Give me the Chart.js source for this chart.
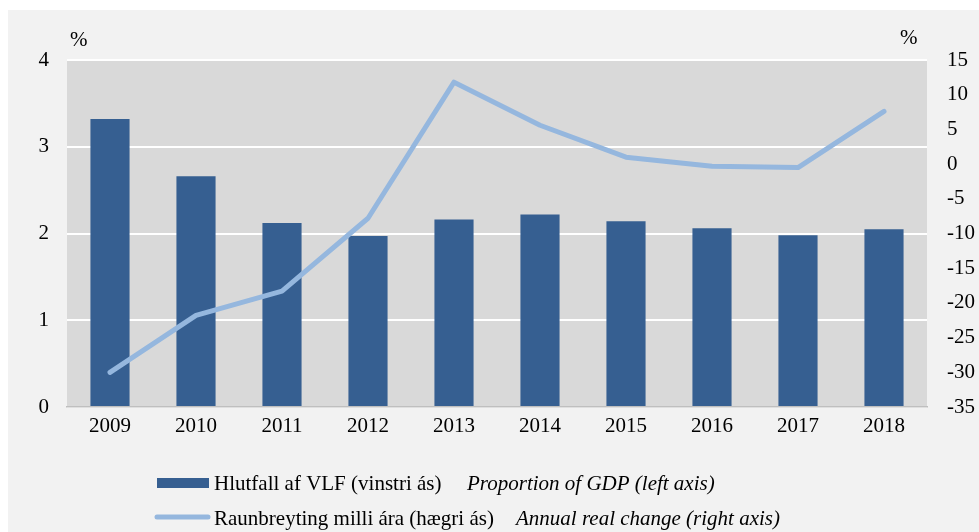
<!DOCTYPE html>
<html>
<head>
<meta charset="utf-8">
<script src="https://cdn.jsdelivr.net/npm/chart.js@4"></script>
<style>
  html, body { margin: 0; padding: 0; background: #ffffff; }
  #wrap { position: absolute; left: 8px; top: 10px; width: 971px; height: 522px; background: #f2f2f2; }
</style>
</head>
<body>
<div id="wrap"><canvas id="chart_one" width="971" height="522"></canvas></div>
<script>

// data
var years = ['2009', '2010', '2011', '2012', '2013', '2014', '2015', '2016', '2017', '2018'];
var share_gdp = [3.32, 2.66, 2.12, 1.97, 2.16, 2.22, 2.14, 2.06, 1.98, 2.05];
var real_change = [-30.0, -21.8, -18.3, -7.8, 11.8, 5.6, 1.0, -0.3, -0.5, 7.6];

var bar_label = 'Hlutfall af VLF (vinstri ás)';
var bar_label_en = 'Proportion of GDP (left axis)';
var line_label = 'Raunbreyting milli ára (hægri ás)';
var line_label_en = 'Annual real change (right axis)';

var bar_color = '#365f91';
var line_color = '#95b7de';
var font_family = '"Liberation Serif", "Times New Roman", serif';

// plot background + extra texts
var decor = {
    id: 'decor',
    beforeDraw: function (chart) {
        var c = chart.ctx, a = chart.chartArea;
        c.save();
        c.fillStyle = '#d9d9d9';
        c.fillRect(a.left, a.top, a.right - a.left, a.bottom - a.top);
        c.restore();
    },
    afterDraw: function (chart) {
        var c = chart.ctx;
        c.save();
        c.fillStyle = '#000';
        c.textBaseline = 'middle';
        c.font = '21px ' + font_family;
        c.fillText('%', 62, 30);
        c.fillText('%', 892, 28);

        c.textBaseline = 'alphabetic';
        // legend row 1
        c.fillStyle = bar_color;
        c.fillRect(149, 468, 52, 10);
        c.fillStyle = '#000';
        c.font = '21px ' + font_family;
        c.fillText(bar_label, 206, 480);
        c.font = 'italic 21px ' + font_family;
        c.fillText(bar_label_en, 459, 480);

        // legend row 2
        c.strokeStyle = line_color;
        c.lineWidth = 5;
        c.lineCap = 'round';
        c.beginPath();
        c.moveTo(149, 507);
        c.lineTo(200, 507);
        c.stroke();
        c.fillStyle = '#000';
        c.font = '21px ' + font_family;
        c.fillText(line_label, 206, 515);
        c.font = 'italic 21px ' + font_family;
        c.fillText(line_label_en, 508, 515);
        c.restore();
    }
};

var ctx = document.getElementById('chart_one').getContext('2d');
var chart = new Chart(ctx, {
    type: 'bar',
    data: {
        labels: years,
        datasets: [
            {
                type: 'line',
                label: line_label,
                data: real_change,
                yAxisID: 'y2',
                borderColor: line_color,
                borderWidth: 5,
                pointRadius: 0,
                tension: 0,
                fill: false,
                borderCapStyle: 'round',
                borderJoinStyle: 'round',
                order: 0
            },
            {
                type: 'bar',
                label: bar_label,
                data: share_gdp,
                yAxisID: 'y',
                backgroundColor: bar_color,
                barPercentage: 0.455,
                categoryPercentage: 1,
                order: 1
            }
        ]
    },
    options: {
        responsive: false,
        animation: false,
        layout: { padding: { top: 50, bottom: 90, left: 0, right: 0 } },
        plugins: { legend: { display: false }, tooltip: { enabled: false } },
        scales: {
            x: {
                grid: { display: false, drawTicks: false },
                border: { color: '#bfbfbf', width: 1.5 },
                ticks: { color: '#000', font: { family: font_family, size: 21 }, padding: 7 },
                afterFit: function (s) { s.height = 35; }
            },
            y: {
                position: 'left',
                min: 0, max: 4,
                ticks: { stepSize: 1, color: '#000', font: { family: font_family, size: 21 }, padding: 18 },
                grid: { color: '#ffffff', lineWidth: 2, drawTicks: false },
                border: { display: false },
                afterFit: function (s) { s.width = 59; }
            },
            y2: {
                position: 'right',
                min: -35, max: 15,
                ticks: { stepSize: 5, color: '#000', font: { family: font_family, size: 21 }, padding: 20 },
                grid: { display: false, drawTicks: false },
                border: { display: false },
                afterFit: function (s) { s.width = 52; }
            }
        }
    },
    plugins: [decor]
});
</script>
</body>
</html>
